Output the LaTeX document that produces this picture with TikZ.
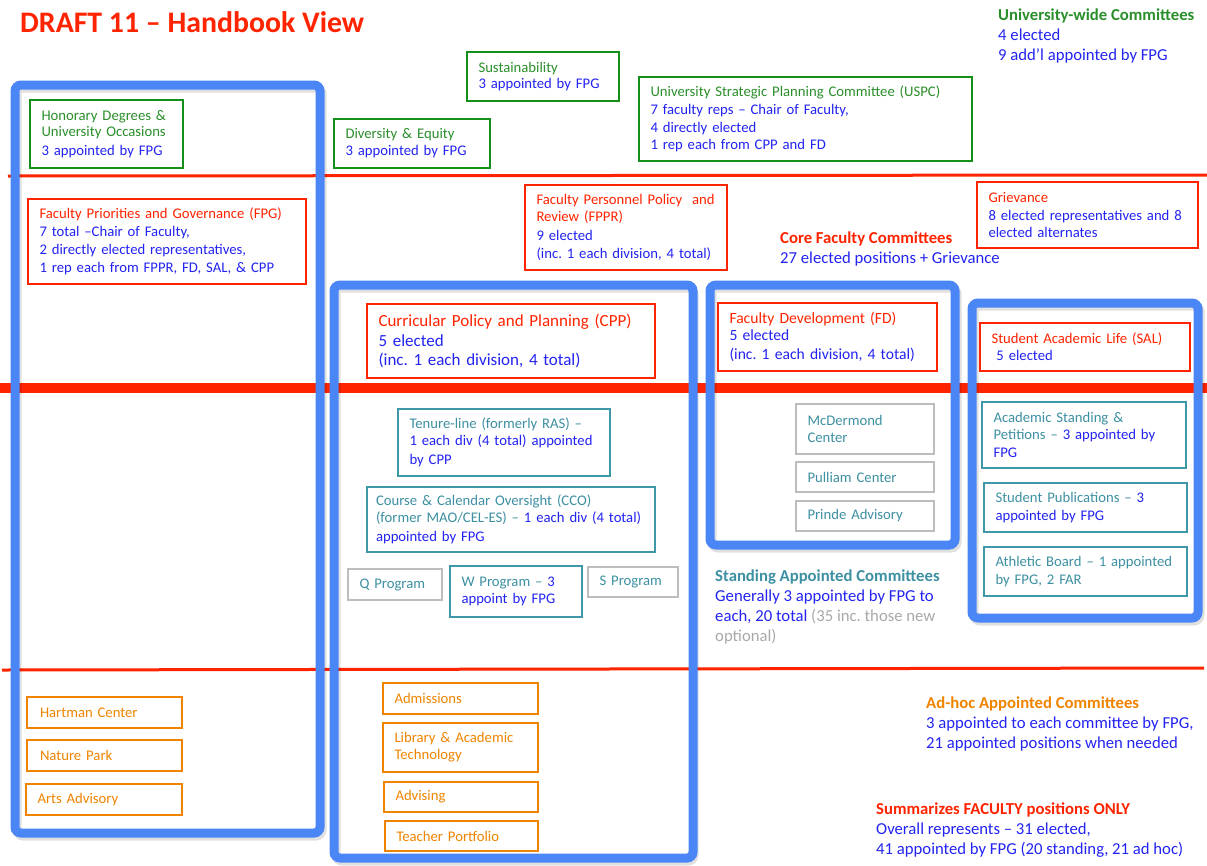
\documentclass[tikz,border=0pt]{standalone}
\usepackage{fontspec}
\setmainfont{Carlito}
\frenchspacing
\definecolor{frameblue}{HTML}{4A86F6}
\definecolor{lred}{HTML}{FF2400}
\definecolor{tblue}{HTML}{2323F2}
\definecolor{tgreen}{HTML}{2A8F2A}
\definecolor{bgreen}{HTML}{14901A}
\definecolor{tteal}{HTML}{3D90A2}
\definecolor{bteal}{HTML}{3E98A8}
\definecolor{orng}{HTML}{F08400}
\definecolor{gbox}{HTML}{BDBDBD}
\definecolor{gtext}{HTML}{A9A9A9}
\newcommand\lns[1]{\begin{tabular}[t]{@{}l@{}}#1\end{tabular}}
\newcommand\bl[1]{\textcolor{tblue}{#1}}
% name, style, x1, y1, x2, y2, text
\newcommand\cbox[7]{%
  \node[text width={#5pt-#3pt-23pt}, #2, minimum width={#5pt-#3pt}, minimum height={#6pt-#4pt}]
    (#1) at ({(#3+#5)/2},{(#4+#6)/2}) {#7};}
\tikzset{
  cbase/.style={draw, line width=2.8pt, fill=white, inner xsep=11.5pt, inner ysep=2pt,
    align=left, anchor=center, font=\fontsize{14.7}{16.8}\selectfont},
  greenbox/.style={cbase, draw=bgreen, text=tgreen},
  redbox/.style={cbase, draw=lred, text=lred},
  tealbox/.style={cbase, draw=bteal, text=tteal},
  graybox/.style={cbase, draw=gbox, text=tteal},
  orangebox/.style={cbase, draw=orng, text=orng},
  frame/.style={draw=frameblue, line width=9pt, rounded corners=6pt},
  frameshadow/.style={draw=black, opacity=0.12, line width=9pt, rounded corners=6pt},
  redline/.style={draw=lred},
  freetext/.style={anchor=base west, inner sep=0pt, font=\fontsize{16.7}{20.3}\selectfont, text=tblue},
}
\begin{document}
\begin{tikzpicture}[x=1pt,y=-1pt]
\useasboundingbox (0,0) rectangle (1207,865);
\fill[white] (0,0) rectangle (1207,865);

% red separator lines
\draw[redline, line width=3pt] (8,176) -- (1207,175);
\draw[redline, line width=10pt] (0,388) -- (1207,388);
\draw[redline, line width=3pt] (2,670) -- (1204,668);

% blue frames (shadow then frame)
\draw[frameshadow] (17,88) rectangle (322,836);
\draw[frameshadow] (336,288) rectangle (694,861);
\draw[frameshadow] (712,288) rectangle (957,548);
\draw[frameshadow] (974,306) rectangle (1200,621);
\draw[frame] (15,85) rectangle (320,833);
\draw[frame] (334,285) rectangle (693,858);
\draw[frame] (710,285) rectangle (955,545);
\draw[frame] (972,303) rectangle (1198,618);

% title
\node[anchor=base west, inner sep=0pt, text=lred, font=\fontsize{29.8}{34}\bfseries\selectfont] (title) at (20,32) {DRAFT 11 -- Handbook View};

% university-wide committees
\cbox{hon}{greenbox}{30}{100}{183}{168}{Honorary Degrees \&\\University Occasions\\[2pt]\bl{3 appointed by FPG}}
\cbox{div}{greenbox}{334}{119}{490}{168}{Diversity \& Equity\\\bl{3 appointed by FPG}}
\cbox{sus}{greenbox}{467}{52}{619}{101}{Sustainability\\\bl{3 appointed by FPG}}
\cbox{uspc}{greenbox}{639}{77}{972}{161}{University Strategic Planning Committee (USPC)\\[1pt]\bl{7 faculty reps -- Chair of Faculty,}\\[1pt]\bl{4 directly elected}\\[1pt]\bl{1 rep each from CPP and FD}}

% core faculty committees
\cbox{fpg}{redbox}{28}{199}{306}{284}{Faculty Priorities and Governance (FPG)\\[1pt]\bl{7 total --Chair of Faculty,}\\[1pt]\bl{2 directly elected representatives,}\\[1pt]\bl{1 rep each from FPPR, FD, SAL, \& CPP}}
\cbox{fppr}{redbox}{525}{185}{727}{270}{Faculty Personnel Policy\ \ and\\Review (FPPR)\\[2pt]\bl{9 elected}\\[1pt]\bl{(inc. 1 each division, 4 total)}}
\cbox{griev}{redbox}{977}{182}{1198}{248}{Grievance\\[1pt]\bl{8 elected representatives and 8}\\[1pt]\bl{elected alternates}}
\cbox{cpp}{redbox, font=\fontsize{17}{19.5}\selectfont}{367}{304}{655}{378}{Curricular Policy and Planning (CPP)\\\bl{5 elected}\\\bl{(inc. 1 each division, 4 total)}}
\cbox{fd}{redbox, font=\fontsize{15.6}{16.5}\selectfont}{718}{303}{937}{371}{Faculty Development (FD)\\\bl{5 elected}\\[2.5pt]\bl{(inc. 1 each division, 4 total)}}
\cbox{sal}{redbox}{980}{323}{1190}{371}{Student Academic Life (SAL)\\\bl{\ 5 elected}}

% standing appointed committees
\cbox{ten}{tealbox}{398}{409}{610}{476}{Tenure-line (formerly RAS) --\\\bl{1 each div (4 total) appointed}\\[2pt]\bl{by CPP}}
\cbox{cco}{tealbox, inner xsep=9pt, text width=270pt}{367}{487}{655}{552}{Course \& Calendar Oversight (CCO)\\(former MAO/CEL-ES) -- \bl{1 each div (4 total)}\\[2pt]\bl{appointed by FPG}}
\cbox{qp}{graybox}{348}{569}{442}{600}{Q Program}
\cbox{wp}{tealbox}{450}{566}{582}{617}{W Program -- \bl{3}\\[1pt]\bl{appoint by FPG}}
\cbox{sp}{graybox}{588}{567}{678}{597}{S Program}
\cbox{mcd}{graybox}{796}{404}{934}{454}{McDermond\\Center}
\cbox{pul}{graybox}{796}{462}{934}{492}{Pulliam Center}
\cbox{pri}{graybox}{796}{501}{934}{531}{Prinde Advisory}
\cbox{asp}{tealbox}{982}{402}{1186}{468}{Academic Standing \&\\Petitions -- \bl{3 appointed by}\\[1pt]\bl{FPG}}
\cbox{spub}{tealbox}{984}{483}{1187}{532}{Student Publications -- \bl{3}\\[1pt]\bl{appointed by FPG}}
\cbox{ath}{tealbox}{984}{547}{1187}{596}{Athletic Board -- 1 appointed\\[1pt]by FPG, 2 FAR}

% ad-hoc committees
\cbox{hart}{orangebox}{27}{697}{182}{728}{\hspace{1.5pt}Hartman Center}
\cbox{nat}{orangebox}{27}{740}{182}{771}{\hspace{1.5pt}Nature Park}
\cbox{arts}{orangebox}{26}{784}{182}{815}{Arts Advisory}
\cbox{adm}{orangebox}{383}{683}{538}{714}{Admissions}
\cbox{lib}{orangebox}{383}{723}{538}{772}{Library \& Academic\\Technology}
\cbox{adv}{orangebox}{384}{782}{538}{812}{Advising}
\cbox{tea}{orangebox}{385}{821}{538}{851}{Teacher Portfolio}

% legends
\node[freetext] (uwlab) at (998,20) {\lns{\textcolor{tgreen}{\bfseries University-wide Committees}\\4 elected\\9 add'l appointed by FPG}};
\node[freetext] (corelab) at (780,243) {\lns{\textcolor{lred}{\bfseries Core Faculty Committees}\\27 elected positions + Grievance}};
\node[freetext] (stlab) at (715,581) {\lns{\textcolor{tteal}{\bfseries Standing Appointed Committees}\\Generally 3 appointed by FPG to\\each, 20 total \textcolor{gtext}{(35 inc. those new}\\\textcolor{gtext}{optional)}}};
\node[freetext] (adlab) at (926,708) {\lns{\textcolor{orng}{\bfseries Ad-hoc Appointed Committees}\\3 appointed to each committee by FPG,\\21 appointed positions when needed}};
\node[freetext] (sumlab) at (876,814) {\lns{\textcolor{lred}{\bfseries Summarizes FACULTY positions ONLY}\\Overall represents -- 31 elected,\\41 appointed by FPG (20 standing, 21 ad hoc)}};
\end{tikzpicture}
\end{document}
